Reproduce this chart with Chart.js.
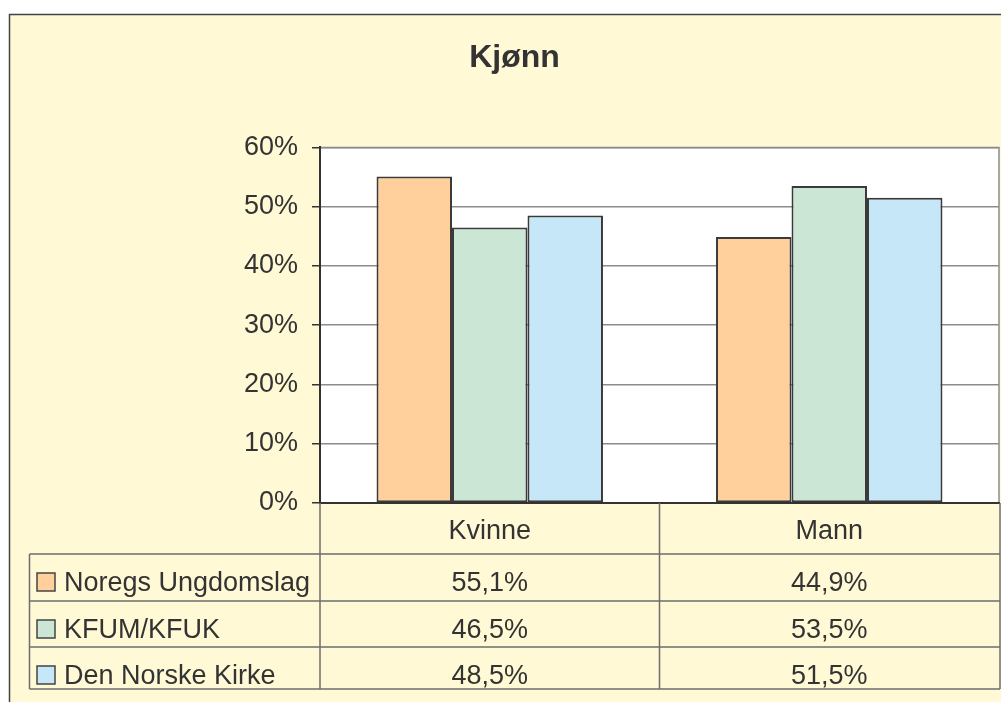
<!DOCTYPE html>
<html>
<head>
<meta charset="utf-8">
<title>Kjønn</title>
<script src="https://cdn.jsdelivr.net/npm/chart.js@4"></script>
<style>
  html, body { margin: 0; padding: 0; background: #fff; }
  canvas { display: block; }
</style>
</head>
<body>
<canvas id="chartKjonn" width="1001" height="702"></canvas>
<script>
// Kjønn: gender split per organisation, Excel-style bar chart with data table.
const categories = ['Kvinne', 'Mann'];
const seriesNames = ['Noregs Ungdomslag', 'KFUM/KFUK', 'Den Norske Kirke'];
const noregsUngdomslag = [55.1, 44.9];
const kfumKfuk = [46.5, 53.5];
const denNorskeKirke = [48.5, 51.5];
const yTicks = [0, 10, 20, 30, 40, 50, 60];

const seriesValues = [noregsUngdomslag, kfumKfuk, denNorskeKirke];
const seriesColors = ['#FFD09B', '#CCE6D5', '#C6E7F7'];

const FONT = '"Liberation Sans", Arial, Helvetica, sans-serif';
const TEXT = '#333333';
const BG = '#FFF9D5';

Chart.defaults.font.family = FONT;
Chart.defaults.color = TEXT;

function fmtPct(v) {
  return v.toFixed(1).replace('.', ',') + '%';
}

// background, frame and white plot area, plus the data table under the axis
const excelFrame = {
  id: 'excelFrame',
  beforeDraw(chart) {
    const { ctx, chartArea: a } = chart;
    ctx.save();
    ctx.fillStyle = '#fff';
    ctx.fillRect(0, 0, chart.width, chart.height);
    ctx.fillStyle = BG;
    ctx.fillRect(10, 15, chart.width, chart.height);
    ctx.strokeStyle = '#444';
    ctx.lineWidth = 1.5;
    ctx.strokeRect(9.5, 14.5, chart.width + 20, chart.height + 20);
    ctx.fillStyle = '#fff';
    ctx.fillRect(a.left, a.top, a.width, a.height);
    ctx.strokeStyle = '#8c8c8c';
    ctx.lineWidth = 1.5;
    ctx.beginPath();
    ctx.moveTo(a.left, a.top);
    ctx.lineTo(a.right, a.top);
    ctx.lineTo(a.right, a.bottom);
    ctx.stroke();
    ctx.restore();
  },
  afterDraw(chart) {
    const { ctx, chartArea: a } = chart;
    const xs = chart.scales.x;
    const centers = categories.map((c, i) => xs.getPixelForValue(i));
    const mid = (centers[0] + centers[1]) / 2;
    const left = 29.5;
    const right = a.right + 1;
    const rows = [0, 51, 98, 144, 186].map(o => a.bottom + o);

    ctx.save();
    ctx.strokeStyle = '#6e6e6e';
    ctx.lineWidth = 1.5;
    ctx.beginPath();
    [a.left, mid, right].forEach(x => {
      ctx.moveTo(x, rows[0]);
      ctx.lineTo(x, rows[4]);
    });
    ctx.moveTo(left, rows[1]);
    ctx.lineTo(left, rows[4]);
    for (let r = 1; r < rows.length; r++) {
      ctx.moveTo(left, rows[r]);
      ctx.lineTo(right, rows[r]);
    }
    ctx.stroke();

    ctx.font = '27px ' + FONT;
    ctx.fillStyle = TEXT;
    ctx.textBaseline = 'alphabetic';
    ctx.textAlign = 'center';
    categories.forEach((c, i) => ctx.fillText(c, centers[i], rows[0] + 36));

    seriesNames.forEach((name, s) => {
      const base = rows[s + 1] + 36.5;
      ctx.fillStyle = seriesColors[s];
      ctx.fillRect(37, base - 17.5, 18, 18);
      ctx.strokeStyle = '#444';
      ctx.lineWidth = 1.5;
      ctx.strokeRect(37, base - 17.5, 18, 18);
      ctx.fillStyle = TEXT;
      ctx.textAlign = 'left';
      ctx.fillText(name, 64, base);
      ctx.textAlign = 'center';
      seriesValues[s].forEach((v, i) => ctx.fillText(fmtPct(v), centers[i], base));
    });
    ctx.restore();
  }
};

const ctx = document.getElementById('chartKjonn').getContext('2d');
new Chart(ctx, {
  type: 'bar',
  data: {
    labels: categories,
    datasets: seriesNames.map((name, s) => ({
      label: name,
      data: seriesValues[s],
      backgroundColor: seriesColors[s],
      borderColor: '#3a3a3a',
      borderWidth: 2,
      borderSkipped: false,
      categoryPercentage: 0.667,
      barPercentage: 1,
    })),
  },
  options: {
    responsive: false,
    animation: false,
    devicePixelRatio: 1,
    layout: { padding: { left: 30, right: 2, top: 0, bottom: 0 } },
    plugins: {
      legend: { display: false },
      tooltip: { enabled: false },
      title: {
        display: true,
        text: 'Kjønn',
        color: TEXT,
        font: { size: 32, weight: 'bold', lineHeight: 1.2 },
        padding: { top: 39, bottom: 70 },
      },
    },
    scales: {
      y: {
        min: yTicks[0],
        max: yTicks[yTicks.length - 1],
        afterBuildTicks: scale => { scale.ticks = yTicks.map(v => ({ value: v })); },
        afterFit: scale => { scale.width = 290; },
        ticks: {
          color: TEXT,
          font: { size: 27 },
          padding: 14,
          callback: v => v + '%',
        },
        grid: { color: '#8c8c8c', lineWidth: 1.5, tickColor: '#333', tickLength: 8 },
        border: { color: '#333', width: 2 },
      },
      x: {
        afterFit: scale => { scale.height = 199; },
        ticks: { display: false },
        grid: { display: false },
        border: { color: '#333', width: 2 },
      },
    },
  },
  plugins: [excelFrame],
});
</script>
</body>
</html>
